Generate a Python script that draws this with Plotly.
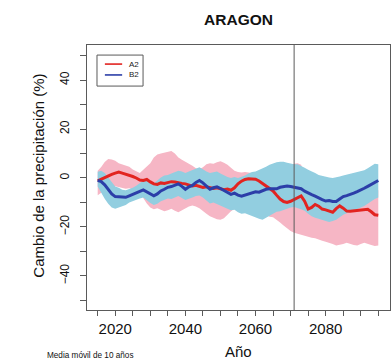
import plotly.graph_objects as go

# Years covered by the 10-year moving averages
years = list(range(2015, 2096))

# A2 scenario: ensemble mean and spread (% change in precipitation)
a2_mean = [
    -1.2, -0.5, 0.3, 0.8, 1.5, 2.0, 2.4, 2.0, 1.6, 1.2,
    0.6, 0.0, -0.8, -1.0, -0.6, -1.6, -2.4, -2.6, -2.0, -2.2,
    -1.8, -1.5, -1.6, -2.0, -2.2, -2.4, -3.0, -3.3, -3.0, -3.4,
    -3.9, -3.6, -3.8, -4.3, -4.0, -4.5, -4.8, -4.5, -5.0, -4.0,
    -2.4, -1.3, -0.6, -0.3, -0.5, -0.5, -1.2, -2.2, -3.3, -4.0,
    -5.3, -7.0, -8.6, -9.6, -10.0, -9.5, -8.8, -8.0, -7.3, -9.5,
    -12.7, -12.0, -10.8, -11.5, -12.7, -13.0, -13.6, -14.0, -12.5, -11.4,
    -12.3, -13.5, -13.6, -13.5, -13.4, -13.2, -12.9, -12.8, -13.8, -15.0,
    -15.2,
]
a2_upper = [
    3.0, 4.5, 6.5, 7.8, 7.6, 7.0, 6.0, 5.5, 5.0, 4.6,
    3.5, 2.6, 2.0, 3.4, 4.6, 6.0, 8.4, 9.6, 10.0, 10.4,
    10.6, 11.0, 10.0, 8.4, 7.4, 6.6, 6.0, 5.0, 4.0, 3.6,
    4.4, 5.6, 6.0, 5.8, 6.4, 6.8, 6.2, 5.4, 4.2, 3.0,
    2.4, 2.2, 2.4, 2.2, 2.0, 1.8, 1.6, 1.4, 1.2, 1.0,
    1.2, 1.4, 1.6, 2.0, 2.6, 4.6, 5.8, 6.0, 5.4, 1.4,
    -0.6, -1.6, -2.2, -2.6, -3.0, -3.4, -3.0, -3.2, -3.6, -3.2,
    -3.0, -3.4, -3.8, -4.0, -3.6, -3.4, -3.8, -4.0, -4.4, -4.8,
    -5.0,
]
a2_lower = [
    -7.0, -6.0, -5.0, -4.2, -3.6, -3.4, -3.6, -4.0, -4.4, -4.2,
    -4.6, -5.2, -6.0, -8.0, -10.4, -12.0, -12.8, -12.4, -13.0, -13.6,
    -13.2, -12.6, -13.4, -14.0, -13.4, -12.4, -11.6, -11.2, -11.6, -12.4,
    -13.4, -14.6, -15.6, -16.2, -16.8, -17.0, -16.4, -15.0, -13.6, -12.6,
    -12.0, -11.6, -11.0, -10.8, -11.2, -12.0, -13.0, -14.4, -15.2, -15.8,
    -16.0, -17.0, -18.2, -19.4, -20.6, -21.6, -22.4, -22.8, -23.2, -23.6,
    -24.0, -24.4, -24.6, -25.0, -25.6, -26.0, -26.4, -27.0, -27.6, -27.4,
    -27.0, -26.4, -26.8, -27.4, -27.6, -27.0, -26.4, -27.0, -27.4, -27.8,
    -27.6,
]

# B2 scenario: ensemble mean and spread
b2_mean = [
    -1.0, -1.5, -2.8, -4.5, -6.5, -7.6, -7.8, -7.8, -7.9, -7.3,
    -6.8, -6.0, -5.5, -4.9, -5.6, -6.6, -7.3, -6.5, -5.3, -4.6,
    -3.8, -3.5, -3.0, -2.4, -3.4, -4.6, -3.6, -3.0, -1.8, -1.0,
    -2.0, -3.4, -4.6, -4.0, -3.6, -4.3, -5.2, -6.0, -6.7, -6.2,
    -7.0, -7.4, -7.0, -6.4, -6.0, -5.6, -5.8, -5.2, -4.6, -4.4,
    -4.4, -4.4, -3.8, -3.5, -3.3, -3.5, -3.9, -4.0, -4.4, -5.4,
    -6.2, -6.8, -7.4, -8.2, -8.8, -9.4, -9.2, -9.6, -9.6, -8.6,
    -7.6, -7.2, -6.8, -6.2, -5.6, -5.0, -4.2, -3.4, -2.6, -1.6,
    -1.0,
]
b2_upper = [
    2.5, 3.0, 2.0, 0.0, -2.0, -3.5, -4.0, -4.8, -5.0, -4.6,
    -4.0, -3.2, -2.0, -1.0, -0.8, -1.5, -2.2, -1.0, 0.2, 1.0,
    1.2, 1.8, 2.4, 3.0, 2.6, 2.0, 2.6, 3.2, 4.0, 4.4,
    3.6, 2.6, 2.0, 2.2, 2.6, 1.8, 1.0, 0.4, 0.0, 0.4,
    0.0, 0.4, 1.0, 1.8, 2.4, 2.6, 3.2, 4.0, 4.6, 5.4,
    6.0, 6.4, 6.6, 6.6, 6.2, 5.8, 5.6, 5.6, 5.0, 4.2,
    3.4, 2.8, 2.0, 1.2, 0.8, 0.4, 0.2, 0.0, 0.2, 0.6,
    1.0, 1.4, 1.8, 2.2, 2.4, 2.8, 3.2, 4.0, 5.0, 5.8,
    5.6,
]
b2_lower = [
    -3.5, -6.0, -8.5, -10.5, -12.0, -12.6, -12.0, -11.5, -11.0, -10.0,
    -9.4, -9.0, -8.4, -8.0, -9.0, -10.2, -11.0, -10.5, -9.5, -8.8,
    -8.4, -8.6, -8.0, -7.4, -8.2, -9.0, -8.6, -8.0, -7.4, -7.2,
    -8.0, -9.2, -10.4, -10.0, -10.6, -11.4, -12.0, -12.6, -13.2, -13.0,
    -14.0, -14.6, -14.4, -15.0, -15.6, -16.0, -16.6, -17.0, -16.4, -15.4,
    -14.6, -13.8, -13.6, -13.2, -12.6, -12.0, -11.8, -12.4, -12.8, -13.4,
    -14.6, -15.6, -16.2, -16.6, -17.0, -17.6, -18.0, -17.6, -17.0, -16.0,
    -15.0, -14.4, -13.8, -13.0, -12.5, -12.0, -11.4, -10.6, -9.6, -8.6,
    -8.0,
]

scenario_names = ["A2", "B2"]
x_tick_years = [2020, 2040, 2060, 2080]
split_year = 2071

FONT = "Liberation Sans, Arial, sans-serif"
FRAME = "#5a5a5a"
PINK = "rgb(246,182,197)"
CYAN = "rgb(146,206,224)"
RED = "rgb(226,36,32)"
BLUE = "rgb(44,62,168)"


def band(lower, upper, colour):
    return go.Scatter(
        x=years + years[::-1],
        y=upper + lower[::-1],
        fill="toself",
        fillcolor=colour,
        line=dict(width=0),
        mode="lines",
        hoverinfo="skip",
        showlegend=False,
    )


fig = go.Figure()
fig.add_trace(band(a2_lower, a2_upper, PINK))
fig.add_trace(band(b2_lower, b2_upper, CYAN))
fig.add_trace(go.Scatter(x=years, y=a2_mean, mode="lines", name=scenario_names[0],
                         line=dict(color=RED, width=3), showlegend=False))
fig.add_trace(go.Scatter(x=years, y=b2_mean, mode="lines", name=scenario_names[1],
                         line=dict(color=BLUE, width=3), showlegend=False))

# Boundary between the two projection periods
fig.add_shape(type="line", xref="x", yref="paper", x0=split_year, x1=split_year,
              y0=0, y1=1, line=dict(color=FRAME, width=1))

# Legend box with line samples
fig.add_shape(type="rect", xref="paper", yref="paper", x0=0.033, x1=0.185,
              y0=0.845, y1=0.962, line=dict(color=FRAME, width=1), fillcolor="white")
for i, (name, colour) in enumerate(zip(scenario_names, [RED, BLUE])):
    yy = 0.928 - i * 0.041
    fig.add_shape(type="line", xref="paper", yref="paper", x0=0.059, x1=0.116,
                  y0=yy, y1=yy, line=dict(color=colour, width=1.6))
    fig.add_annotation(text=name, xref="paper", yref="paper", x=0.133, y=yy,
                       xanchor="left", yanchor="middle", showarrow=False,
                       font=dict(family=FONT, size=8, color="#222"))

# Axis titles and footnote
fig.add_annotation(text="Cambio de la precipitación (%)", xref="paper", yref="paper",
                   x=-0.16, y=0.505, textangle=-90, showarrow=False,
                   xanchor="center", yanchor="middle",
                   font=dict(family=FONT, size=15, color="#111"))
fig.add_annotation(text="Año", xref="paper", yref="paper", x=0.5, y=-0.155,
                   showarrow=False, xanchor="center", yanchor="middle",
                   font=dict(family=FONT, size=15, color="#111"))
fig.add_annotation(text="Media móvil de 10 años", xref="paper", yref="paper",
                   x=-0.139, y=-0.17, showarrow=False, xanchor="left",
                   yanchor="middle", font=dict(family=FONT, size=8.2, color="#111"))

fig.update_layout(
    width=392, height=360,
    margin=dict(l=87, r=2, t=45, b=50),
    paper_bgcolor="white", plot_bgcolor="white",
    title=dict(text="<b>ARAGON</b>", x=0.5, xref="paper", y=1 - 20 / 360,
               yanchor="middle", xanchor="center",
               font=dict(family=FONT, size=15.5, color="#111")),
    showlegend=False,
)
fig.update_xaxes(
    range=[2011.95, 2098.34], showgrid=False, zeroline=False,
    showline=True, mirror=True, linecolor=FRAME, linewidth=1,
    tickmode="array", tickvals=x_tick_years, ticks="outside", ticklen=5,
    tickcolor=FRAME, tickfont=dict(family=FONT, size=15, color="#111"),
    minor=dict(tick0=2015, dtick=5, ticks="outside", ticklen=5, tickcolor=FRAME),
)
fig.update_yaxes(
    range=[-53.9, 54.3], showgrid=False, zeroline=False,
    showline=True, mirror=True, linecolor=FRAME, linewidth=1,
    tick0=0, dtick=20, ticks="outside", ticklen=6, tickcolor=FRAME,
    tickangle=-90, ticklabelstandoff=6,
    tickfont=dict(family=FONT, size=12, color="#111"),
    minor=dict(tick0=0, dtick=10, ticks="outside", ticklen=6, tickcolor=FRAME),
)

fig.write_html("out.html")
